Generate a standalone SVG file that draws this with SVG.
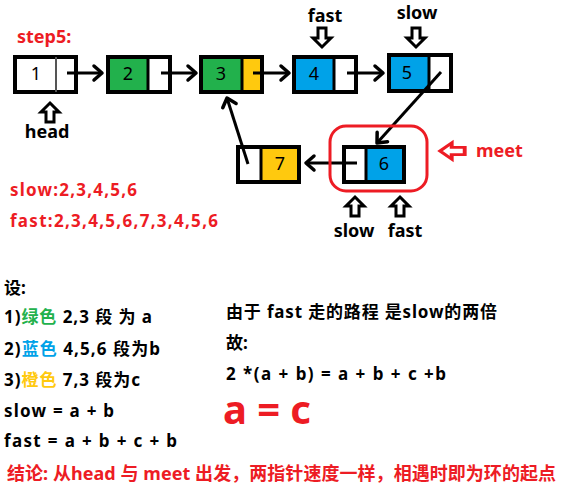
<svg xmlns="http://www.w3.org/2000/svg" width="563" height="494" viewBox="0 0 563 494">
<style>
.box{fill:none;stroke:#000;stroke-width:4}
.div{stroke:#000;stroke-width:3}
.num{font-family:"Noto Sans","Noto Sans CJK SC",sans-serif;font-size:18px;text-anchor:middle;fill:#000}
.lbl{font-family:"Noto Sans","Noto Sans CJK SC",sans-serif;font-weight:bold;font-size:17px;fill:#000}
.t{font-family:"Noto Sans","Noto Sans CJK SC",sans-serif;font-weight:bold;font-size:17px;fill:#000}
.red{fill:#ED1C24}
.con{stroke:#000;stroke-width:3;fill:none;marker-end:url(#ah)}
.hollow{fill:#fff;stroke:#000;stroke-width:3;stroke-linejoin:miter}
</style>
<defs>
<marker id="ah" markerUnits="userSpaceOnUse" markerWidth="20" markerHeight="20" viewBox="-12 -10 14 20" refX="0" refY="0" orient="auto">
<path d="M-8,-7 L0,0 L-8,7" fill="none" stroke="#000" stroke-width="3.5" stroke-linecap="round" stroke-linejoin="round"/>
</marker>
<path id="up" d="M0,0 L9,9 L4,9 L4,19 L-4,19 L-4,9 L-9,9 Z"/>
</defs>
<rect width="563" height="494" fill="#fff"/>

<text class="lbl red" x="17" y="43" style="font-size:18px">step5:</text>

<g id="node1">
<rect x="15" y="57" width="61" height="35" fill="#fff"/>
<rect class="box" x="15" y="57" width="61" height="35"/>
<line x1="56" y1="57" x2="56" y2="92" stroke="#555" stroke-width="2"/>
<text class="num" x="36" y="80">1</text>
</g>
<g id="node2">
<rect x="108" y="57" width="40" height="35" fill="#22B14C"/>
<rect x="148" y="57" width="22" height="35" fill="#fff"/>
<rect class="box" x="108" y="57" width="62" height="35"/>
<line class="div" x1="148" y1="57" x2="148" y2="92"/>
<text class="num" x="128" y="80">2</text>
</g>
<g id="node3">
<rect x="201" y="57" width="41" height="35" fill="#22B14C"/>
<rect x="242" y="57" width="20" height="35" fill="#FFC90E"/>
<rect class="box" x="201" y="57" width="61" height="35"/>
<line class="div" x1="242" y1="57" x2="242" y2="92"/>
<text class="num" x="221" y="80">3</text>
</g>
<g id="node4">
<rect x="294" y="57" width="40" height="35" fill="#00A2E8"/>
<rect x="334" y="57" width="22" height="35" fill="#fff"/>
<rect class="box" x="294" y="57" width="62" height="35"/>
<line class="div" x1="334" y1="57" x2="334" y2="92"/>
<text class="num" x="314" y="80">4</text>
</g>
<g id="node5">
<rect x="389" y="55" width="40" height="36" fill="#00A2E8"/>
<rect x="429" y="55" width="22" height="36" fill="#fff"/>
<rect class="box" x="389" y="55" width="62" height="36"/>
<line class="div" x1="429" y1="55" x2="429" y2="91"/>
<text class="num" x="407" y="79">5</text>
</g>
<g id="node6">
<rect x="344" y="147" width="22" height="35" fill="#fff"/>
<rect x="366" y="147" width="38" height="35" fill="#00A2E8"/>
<rect class="box" x="344" y="147" width="60" height="35"/>
<line class="div" x1="366" y1="147" x2="366" y2="182"/>
<text class="num" x="384" y="170">6</text>
</g>
<g id="node7">
<rect x="238" y="147" width="23" height="35" fill="#fff"/>
<rect x="261" y="147" width="38" height="35" fill="#FFC90E"/>
<rect class="box" x="238" y="147" width="61" height="35"/>
<line class="div" x1="261" y1="147" x2="261" y2="182"/>
<text class="num" x="280" y="170">7</text>
</g>

<g id="connectors">
<line class="con" x1="67" y1="73" x2="102" y2="73"/>
<line class="con" x1="161" y1="73" x2="196" y2="73"/>
<line class="con" x1="253" y1="73" x2="289" y2="73"/>
<line class="con" x1="347" y1="73" x2="383" y2="73"/>
<line class="con" x1="441" y1="72" x2="377" y2="143"/>
<line class="con" x1="357" y1="163" x2="306" y2="163"/>
<line class="con" x1="248" y1="164" x2="227" y2="98"/>
</g>

<g id="pointers">
<use href="#up" class="hollow" transform="translate(50,103)"/>
<text class="lbl" x="47" y="138" text-anchor="middle" style="font-size:18px">head</text>
<text class="lbl" x="325" y="22" text-anchor="middle" style="font-size:18px">fast</text>
<use href="#up" class="hollow" transform="translate(322,47) rotate(180)"/>
<text class="lbl" x="417" y="19" text-anchor="middle" style="font-size:18px">slow</text>
<use href="#up" class="hollow" transform="translate(416,47) rotate(180)"/>
<use href="#up" class="hollow" transform="translate(355,197)"/>
<use href="#up" class="hollow" transform="translate(400,197)"/>
<text class="lbl" x="354" y="237" text-anchor="middle" style="font-size:18px">slow</text>
<text class="lbl" x="405" y="237" text-anchor="middle" style="font-size:18px">fast</text>
</g>

<g id="meet">
<rect x="330" y="126" width="97" height="65" rx="16" fill="none" stroke="#ED1C24" stroke-width="3"/>
<use href="#up" class="hollow" transform="translate(440,151) rotate(-90) scale(0.9,1.3)" style="stroke:#ED1C24"/>
<text class="lbl red" x="476" y="157" style="font-size:18px">meet</text>
</g>

<text class="lbl red" x="10" y="196" textLength="127" lengthAdjust="spacing">slow:2,3,4,5,6</text>
<text class="lbl red" x="10" y="227" textLength="208" lengthAdjust="spacing">fast:2,3,4,5,6,7,3,4,5,6</text>

<text class="t" x="4" y="294">设:</text>
<text class="t" x="4" y="323" textLength="148" lengthAdjust="spacing">1)<tspan fill="#22B14C">绿色</tspan> 2,3 段 为 a</text>
<text class="t" x="4" y="355" textLength="156" lengthAdjust="spacing">2)<tspan fill="#00A2E8">蓝色</tspan> 4,5,6 段为b</text>
<text class="t" x="4" y="386" textLength="136" lengthAdjust="spacing">3)<tspan fill="#FFC90E">橙色</tspan> 7,3 段为c</text>
<text class="t" x="4" y="417" textLength="110" lengthAdjust="spacing">slow = a + b</text>
<text class="t" x="4" y="447" textLength="173" lengthAdjust="spacing">fast = a + b + c + b</text>

<text class="t" x="226" y="318" textLength="271" lengthAdjust="spacing">由于 fast 走的路程 是slow的两倍</text>
<text class="t" x="226" y="349">故:</text>
<text class="t" x="226" y="380" textLength="220" lengthAdjust="spacing">2 *(a + b) = a + b + c +b</text>
<text x="223" y="424" textLength="88" lengthAdjust="spacing" style="font-family:'Noto Sans',sans-serif;font-weight:bold;font-size:40px;fill:#ED1C24">a = c</text>

<text class="t" x="7" y="480" textLength="549" lengthAdjust="spacing" style="fill:#ED1C24;font-size:18px">结论: 从head 与 meet 出发，两指针速度一样，相遇时即为环的起点</text>
</svg>
